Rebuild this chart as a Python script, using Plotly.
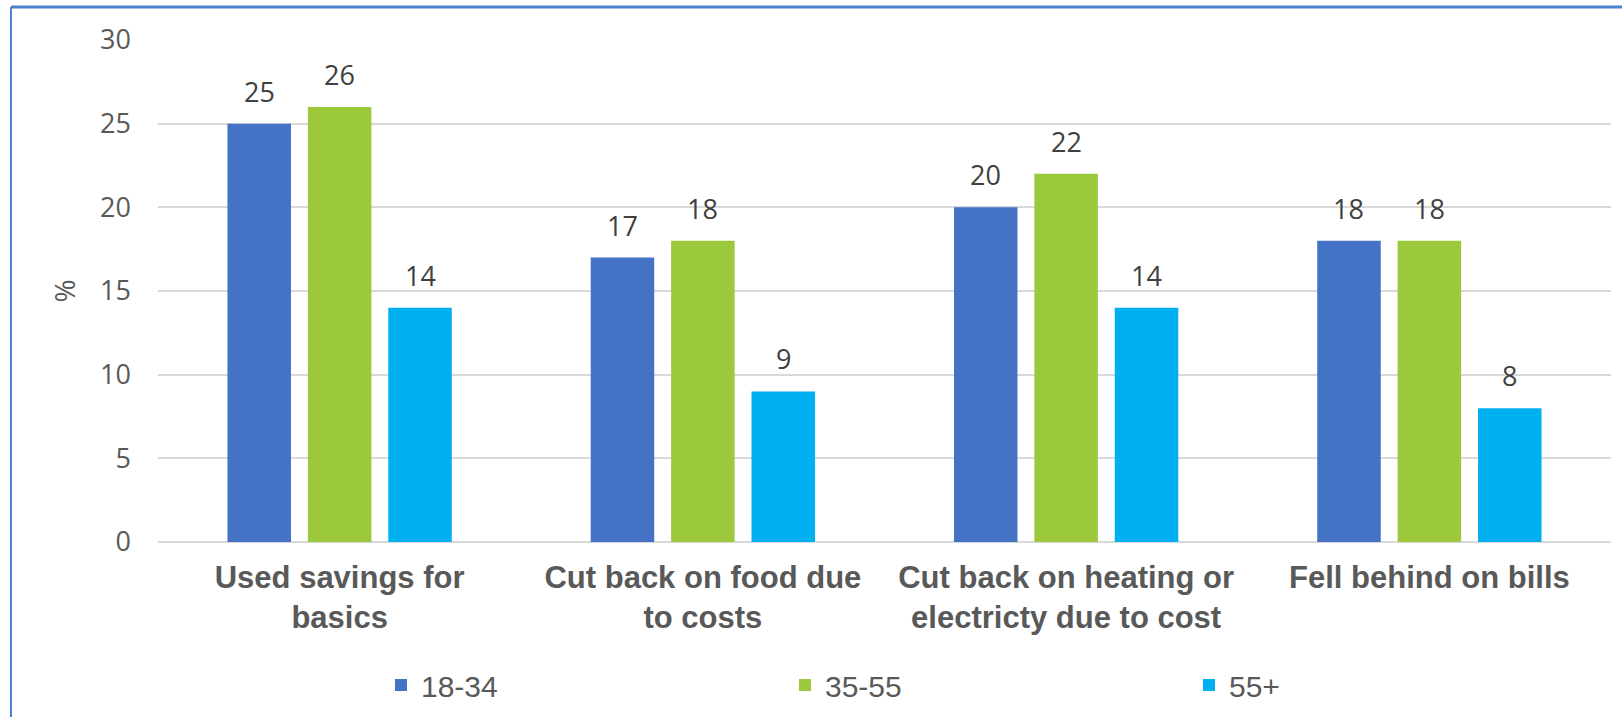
import plotly.graph_objects as go

# Chart data
categories = [
    "Used savings for<br>basics",
    "Cut back on food due<br>to costs",
    "Cut back on heating or<br>electricty due to cost",
    "Fell behind on bills",
]
age_groups = ["18-34", "35-55", "55+"]
values_18_34 = [25, 17, 20, 18]
values_35_55 = [26, 18, 22, 18]
values_55_plus = [14, 9, 14, 8]
y_ticks = [0, 5, 10, 15, 20, 25, 30]

series_values = [values_18_34, values_35_55, values_55_plus]
colors = ["#4472C4", "#9BC93B", "#00B0F0"]

W, H = 1622, 717
ML, MR, MT, MB = 158, 11, 40, 175
plot_w = W - ML - MR
plot_h = H - MT - MB

TICK_FONT = "Open Sans, Segoe UI, sans-serif"
ARIAL = "Arial, Liberation Sans, sans-serif"

fig = go.Figure()
for name, vals, col in zip(age_groups, series_values, colors):
    fig.add_trace(go.Bar(
        name=name, x=categories, y=vals,
        marker=dict(color=col, line=dict(width=0)),
        hoverinfo="skip",
    ))

# Value labels above each bar
slot = 80.5
annotations = []
for i, vals in enumerate(series_values):
    for cat, v in zip(categories, vals):
        annotations.append(dict(
            x=cat, y=v, xref="x", yref="y", text=str(v),
            showarrow=False, xshift=(i - 1) * slot, yshift=12,
            yanchor="bottom", xanchor="center",
            font=dict(family=TICK_FONT, size=27, color="#404040"),
        ))

# Outer frame lines (top and left edges)
def px_to_paper_x(px):
    return (px - ML) / plot_w

def px_to_paper_y(py):
    return (H - MB - py) / plot_h

shapes = [
    dict(type="line", xref="paper", yref="paper",
         x0=px_to_paper_x(11), x1=px_to_paper_x(W + 2),
         y0=px_to_paper_y(7), y1=px_to_paper_y(7),
         line=dict(color="#4F7FCF", width=3)),
    dict(type="line", xref="paper", yref="paper",
         x0=px_to_paper_x(11), x1=px_to_paper_x(11),
         y0=px_to_paper_y(7), y1=px_to_paper_y(H + 2),
         line=dict(color="#4F7FCF", width=2)),
]

fig.update_layout(
    width=W, height=H,
    margin=dict(l=ML, r=MR, t=MT, b=MB, autoexpand=False),
    paper_bgcolor="white", plot_bgcolor="white",
    barmode="group", bargap=0.336, bargroupgap=0.21,
    annotations=annotations, shapes=shapes,
    showlegend=True,
    legend=dict(
        orientation="h", xref="container", yref="container",
        x=381 / W, y=1 - 685 / H, xanchor="left", yanchor="middle",
        entrywidth=359, entrywidthmode="pixels",
        font=dict(family=ARIAL, size=30, color="#595959"),
        bgcolor="rgba(0,0,0,0)", traceorder="normal",
    ),
    xaxis=dict(
        type="category", showgrid=False, showline=False, ticks="",
        tickfont=dict(family=ARIAL, size=31, color="#595959", weight="bold"),
        ticklabelstandoff=14,
    ),
    yaxis=dict(
        range=[0, 30], tickvals=y_ticks, showgrid=True,
        gridcolor="#D9D9D9", gridwidth=2,
        zeroline=True, zerolinecolor="#D9D9D9", zerolinewidth=2,
        showline=False, ticks="",
        tickfont=dict(family=TICK_FONT, size=27, color="#595959"),
        ticklabelstandoff=26,
        title=dict(text="%", standoff=16,
                   font=dict(family=TICK_FONT, size=28, color="#595959")),
    ),
)

fig.write_html("out.html")
